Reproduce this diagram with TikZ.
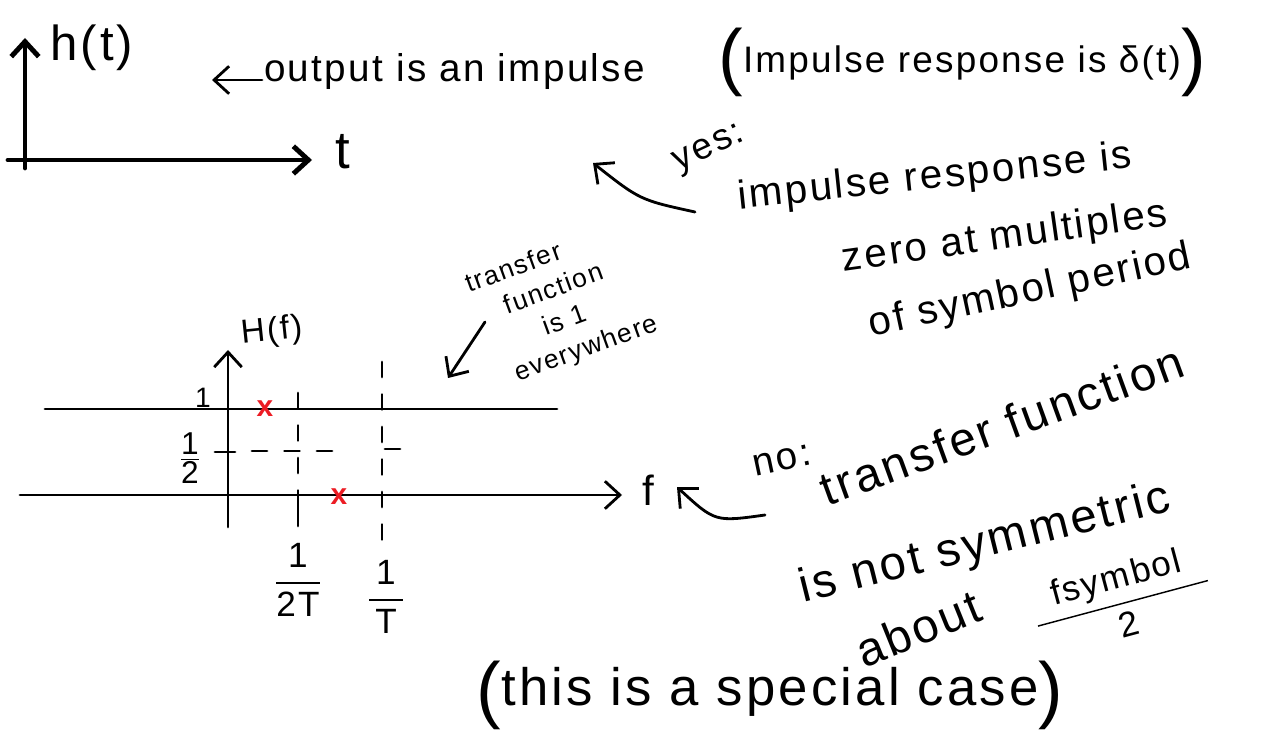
\documentclass[tikz,border=0pt]{standalone}
\usepackage{amsmath}
\usepackage{fontspec}
\setmainfont[LetterSpace=6]{Liberation Sans}
\usetikzlibrary{arrows.meta,positioning,calc}
\definecolor{MarkRed}{RGB}{236,28,36}
\newcommand{\bigparen}[1]{\raisebox{-5pt}{\fontsize{42}{42}\selectfont#1}}

\begin{document}
\begin{tikzpicture}[x=0.02cm,y=-0.02cm,
    ink/.style={line width=1.6pt,line cap=round},
    heavy ink/.style={line width=2.8pt,line cap=round},
    barb/.style={-{Straight Barb[length=3mm,width=5.5mm]}},
    gap dash/.style={ink,dash pattern=on 3mm off 3.5mm},
    hand/.style={inner sep=1pt,font=\fontsize{#1}{#1}\selectfont},
    hand/.default=24,
    mark x/.style={inner sep=0pt,text=MarkRed,font=\bfseries\fontsize{17}{17}\selectfont}]
  \useasboundingbox (0,0) rectangle (1261,736);
  \coordinate (hbot) at (25,168);
  \coordinate (htop) at (25,38);
  \coordinate (hleft) at (8,160);
  \coordinate (hright) at (312,160);
  \draw[heavy ink,barb] (hbot) -- (htop);
  \draw[heavy ink,barb] (hleft) -- (hright);
  \node[hand=28] (hlab) at (92,48) {h(t)};
  \node[hand=30] (tlab) at (343,152) {t};

  \node[hand=22,anchor=west] (outnote) at (262,72) {output is an impulse};
  \coordinate (outtip) at (212,80);
  \draw[ink,barb] (outnote.west |- outtip) -- (outtip);
  \node[hand=21] (impnote) at (962,62) {\bigparen{(}Impulse response is δ(t)\bigparen{)}};

  \node[hand=21,rotate=25] (yesnote) at (710,150) {yes:};
  \node[hand=23,rotate=6] (irline1) at (935,178) {impulse response is};
  \node[hand=23,rotate=8] (irline2) at (1005,238) {zero at multiples};
  \node[hand=23,rotate=12] (irline3) at (1030,292) {of symbol period};
  \coordinate (yestail) at (695,212);
  \coordinate (yestip) at (593,163);
  \draw[ink,barb] (yestail) .. controls (640,200) .. (yestip);

  \coordinate (Hbot) at (228,527);
  \coordinate (Htop) at (228,350);
  \coordinate (fleft) at (20,495);
  \coordinate (fright) at (622,495);
  \coordinate (oneleft) at (45,409);
  \coordinate (oneright) at (557,409);
  \draw[ink,barb] (Hbot) -- (Htop);
  \draw[ink,barb] (fleft) -- (fright);
  \draw[ink] (oneleft) -- (oneright);
  \draw[ink] (215,452) -- (235,452);
  \draw[gap dash] (252,451) -- (335,451);
  \draw[ink] (385,449) -- (400,449);
  \draw[gap dash] (298,393) -- (298,495);
  \draw[ink] (298,495) -- (298,526);
  \draw[gap dash] (382,362) -- (382,550);
  \node[mark x] (zero1) at (265,409) {x};
  \node[mark x] (zero2) at (339,497) {x};
  \node[hand=19,rotate=6] (Hlab) at (272,332) {H(f)};
  \node[hand=16] (onelab) at (203,398) {1};
  \node[hand=18] (halflab) at (190,458) {$\frac{\mbox{1}}{\mbox{2}}$};
  \node[hand=20] (halfT) at (298,580) {$\displaystyle\frac{\mbox{1}}{\mbox{2T}}$};
  \node[hand=20] (fullT) at (386,597) {$\displaystyle\frac{\mbox{1}}{\mbox{\,T\,}}$};
  \node[hand=24] (flab) at (648,490) {f};

  \node[align=left,rotate=20,font=\fontsize{15}{19}\selectfont] (tfnote) at (562,305) {transfer\\\hspace{1.1em}function\\\hspace{2.2em}is 1\\\hspace{0.6em}everywhere};
  \coordinate (tftail) at (485,322);
  \coordinate (tftip) at (448,378);
  \draw[ink,barb] (tftail) -- (tftip);

  \node[hand=22,rotate=12] (nonote) at (782,460) {no:};
  \coordinate (notail) at (765,515);
  \coordinate (notip) at (677,487);
  \draw[ink,barb] (notail) .. controls (715,522) .. (notip);
  \node[hand=27,rotate=20] (nsline1) at (1002,425) {transfer function};
  \node[hand=27,rotate=14] (nsline2) at (985,545) {is not symmetric};
  \node[hand=27,rotate=22] (nsline3) at (918,628) {about};
  \node[hand=20,rotate=15] (fsym) at (1122,600) {$\displaystyle\frac{\mbox{\hspace{0.6em}fsymbol\hspace{0.6em}}}{\mbox{2}}$};

  \node[hand=30] (special) at (770,695) {\bigparen{(}this is a special case\bigparen{)}};
\end{tikzpicture}
\end{document}
